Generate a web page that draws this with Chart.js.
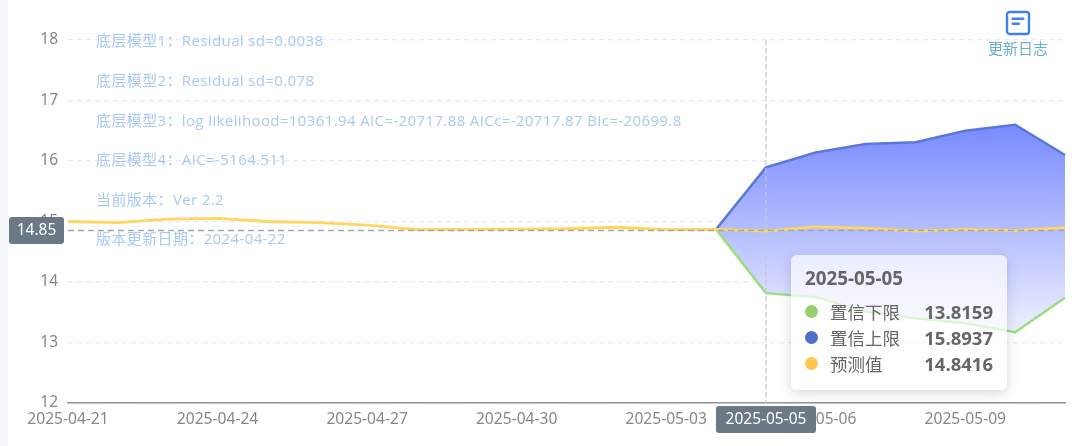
<!DOCTYPE html>
<html><head><meta charset="utf-8">
<script src="https://cdn.jsdelivr.net/npm/chart.js@4"></script>
<style>
html,body{margin:0;padding:0;background:#fff;width:1080px;height:446px;overflow:hidden;font-family:"Open Sans","Noto Sans CJK SC",sans-serif}
#all{position:absolute;left:0;top:0;width:1080px;height:446px;filter:blur(.35px)}
#strip{position:absolute;left:0;top:0;width:8px;height:446px;background:#f6f7fd}
#wrap{position:absolute;left:0;top:0;width:1080px;height:446px}
#log{position:absolute;left:978px;top:10px;width:80px;text-align:center;color:#6fb0c8;font-size:15px;line-height:20px}
#log svg{display:block;margin:0 auto 2px}
#tip{position:absolute;left:791px;top:255px;width:216px;height:135px;box-sizing:border-box;background:rgba(255,255,255,.68);border-radius:6px;box-shadow:0 3px 12px rgba(60,70,110,.22);color:#666;padding:11px 14px}
#tip .t{font-size:18.8px;font-weight:700;line-height:24px;margin-bottom:8px}
#tip .r{display:flex;align-items:center;height:26px;font-size:17.5px}
#tip .d{width:13px;height:13px;border-radius:50%;margin-right:12px}
#tip .v{margin-left:auto;font-weight:700;font-size:18.5px}
</style></head>
<body>
<div id="all">
<div id="strip"></div>
<div id="wrap"><canvas id="c" width="1080" height="446"></canvas></div>
<div id="log"><svg width="26" height="26" viewBox="0 0 26 26"><rect x="2" y="2" width="22" height="22" rx="2.5" fill="#fff" stroke="#3f80f0" stroke-width="2.4"/><rect x="6.5" y="7.5" width="13" height="2.6" rx="1.3" fill="#3f80f0"/><rect x="6.5" y="12.5" width="8.5" height="2.6" rx="1.3" fill="#3f80f0"/></svg>更新日志</div>
<div id="tip"></div>
</div>
<script>
const categories=["2025-04-21","2025-04-22","2025-04-23","2025-04-24","2025-04-25","2025-04-26","2025-04-27","2025-04-28","2025-04-29","2025-04-30","2025-05-01","2025-05-02","2025-05-03","2025-05-04","2025-05-05","2025-05-06","2025-05-07","2025-05-08","2025-05-09","2025-05-10","2025-05-11"];
const forecast=[15.0,14.98,15.04,15.05,15.0,14.98,14.94,14.865,14.87,14.875,14.88,14.905,14.865,14.87,14.8416,14.91,14.89,14.84,14.87,14.85,14.9];
const lower=[null,null,null,null,null,null,null,null,null,null,null,null,null,14.87,13.8159,13.75,13.51,13.4,13.32,13.17,13.74];
const upper=[null,null,null,null,null,null,null,null,null,null,null,null,null,14.87,15.8937,16.14,16.28,16.31,16.5,16.6,16.1];
const yTicks=[12,13,14,15,16,17,18];
const notes=["底层模型1：Residual sd=0.0038","底层模型2：Residual sd=0.078","底层模型3：log likelihood=10361.94 AIC=-20717.88 AICc=-20717.87 BIc=-20699.8","底层模型4：AIC=-5164.511","当前版本：Ver 2.2","版本更新日期：2024-04-22"];
const noteY=[42,82,122,161,201,240];
const pointerIndex=14, pointerValue=14.85;
const FONT='"Open Sans","Noto Sans CJK SC",sans-serif';

function areaFill(ctx){
  const ch=ctx.chart,y=ch.scales.y;
  if(!y||y.top===undefined) return 'rgba(122,140,255,.5)';
  const g=ch.ctx.createLinearGradient(0,y.getPixelForValue(16.6),0,y.getPixelForValue(13.17));
  g.addColorStop(0,'rgb(120,138,255)');
  g.addColorStop(1,'rgb(238,240,255)');
  return g;
}
const overlay={id:'overlay',
  afterDatasetsDraw(ch){
    const c=ch.ctx,{x,y}=ch.scales,a=ch.chartArea;
    const px=x.getPixelForValue(pointerIndex),py=y.getPixelForValue(pointerValue);
    c.save();
    c.lineWidth=1.2;
    c.setLineDash([5,3]);
    c.strokeStyle='#c2c5d4';c.beginPath();c.moveTo(px,a.top);c.lineTo(px,a.bottom);c.stroke();
    c.lineWidth=1.5;c.setLineDash([6,4]);
    c.strokeStyle='#a4a6ad';c.beginPath();c.moveTo(a.left,py);c.lineTo(a.right,py);c.stroke();
    c.setLineDash([]);
    c.font='15px '+FONT;c.textBaseline='middle';c.textAlign='left';c.fillStyle='#a9c9f1';
    c.letterSpacing='0.38px';
    notes.forEach((n,i)=>c.fillText(n,96,noteY[i]));
    c.letterSpacing='0px';
    c.fillStyle='#6b7886';
    c.beginPath();c.roundRect(9,217,55,27,3);c.fill();
    c.beginPath();c.roundRect(716,406,100,27,3);c.fill();
    c.fillStyle='#fff';c.textAlign='center';c.font='15.5px "Noto Sans",sans-serif';
    c.fillText(String(pointerValue),36.5,230.5);
    c.fillText(categories[pointerIndex],766,419.5);
    c.restore();
  }};
new Chart(document.getElementById('c'),{
  type:'line',
  data:{labels:categories,datasets:[
    {label:'置信下限',data:lower,borderColor:'#9adf7e',borderWidth:2.5,pointRadius:0,tension:0,fill:false,order:1},
    {label:'置信上限',data:upper,borderColor:'#5b78d8',borderWidth:2.5,pointRadius:0,tension:0,fill:'-1',backgroundColor:areaFill,order:2},
    {label:'预测值',data:forecast,borderColor:'#ffd75e',borderWidth:2.8,pointRadius:0,tension:0,fill:false,order:0}
  ]},
  options:{responsive:false,animation:false,devicePixelRatio:1,
    layout:{padding:{top:40,right:15,left:0,bottom:0}},
    plugins:{legend:{display:false},tooltip:{enabled:false}},
    events:[],
    scales:{
      x:{type:'category',offset:false,
        afterFit(s){s.height=43},
        grid:{display:false},
        border:{color:'#8f939c',width:1.5},
        afterBuildTicks(s){s.ticks=s.ticks.filter(t=>t.value%3===0)},
        ticks:{autoSkip:false,maxRotation:0,minRotation:0,color:'#85878e',font:{family:'"Noto Sans",sans-serif',size:15.6},padding:-1,
          callback(v){return categories[v]}}
      },
      y:{min:12,max:18,
        afterFit(s){s.width=68},
        afterBuildTicks(s){s.ticks=yTicks.map(v=>({value:v}))},
        grid:{color:'#e6eaf6',drawTicks:false,tickLength:0,lineWidth:1.2},
        border:{display:false,dash:[5,4]},
        ticks:{color:'#85878e',font:{family:'"Noto Sans",sans-serif',size:15.5},padding:10,labelOffset:0}
      }
    }
  },
  plugins:[overlay]
});
const rows=[['置信下限',lower[pointerIndex],'#96d06f'],['置信上限',upper[pointerIndex],'#4f6dc9'],['预测值',forecast[pointerIndex],'#ffc64f']];
document.getElementById('tip').innerHTML='<div class="t">'+categories[pointerIndex]+'</div>'+rows.map(r=>'<div class="r"><span class="d" style="background:'+r[2]+'"></span><span>'+r[0]+'</span><span class="v">'+r[1].toFixed(4)+'</span></div>').join('');
</script>
</body></html>
